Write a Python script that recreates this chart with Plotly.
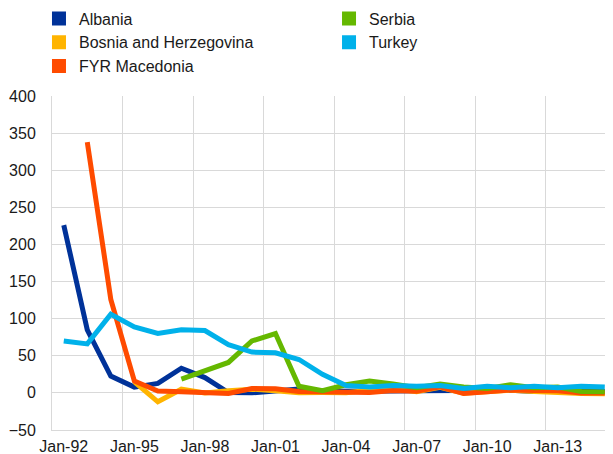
import plotly.graph_objects as go

years = list(range(1992, 2016))
tick_years = [1992, 1995, 1998, 2001, 2004, 2007, 2010, 2013]
tick_text = ["Jan-92", "Jan-95", "Jan-98", "Jan-01", "Jan-04", "Jan-07", "Jan-10", "Jan-13"]

albania = [226, 85, 22.6, 7.8, 12.7, 33.2, 20.6, 0.4, 0.1, 3.1, 5.2, 2.3,
           2.9, 2.4, 2.4, 2.9, 3.4, 2.3, 3.6, 3.4, 2.0, 1.9, 1.6, 1.9]
bosnia = [None, None, None, 15, -12, 5, 0, 3, 5, 3, 0.3, 0.5,
          0.3, 3.6, 6.1, 1.5, 7.4, -0.4, 2.1, 3.7, 2.0, -0.1, -0.9, -1.0]
macedonia = [None, 338, 126, 16, 2.5, 1.5, 0.6, -0.7, 5.8, 5.5, 1.8, 1.2,
             -0.4, 0.5, 3.2, 2.3, 8.3, -0.8, 1.6, 3.9, 3.3, 2.8, -0.3, -0.3]
serbia = [None, None, None, None, None, 18.5, 30, 41, 70, 80, 9, 3,
          11, 16, 12, 7, 12, 8, 6, 11, 7, 8, 2, 1.5]
turkey = [70, 66, 106, 89, 80, 85, 84, 65, 55, 54, 45, 25,
          10, 8, 10, 9, 10, 6, 9, 7, 9, 7, 9, 8]

series = [
    ("Albania", albania, "#003299", "legend"),
    ("Bosnia and Herzegovina", bosnia, "#FFB400", "legend"),
    ("FYR Macedonia", macedonia, "#FF4B00", "legend"),
    ("Serbia", serbia, "#65B800", "legend2"),
    ("Turkey", turkey, "#00B1EA", "legend2"),
]

fig = go.Figure()

for name, vals, color, _ in series:
    fig.add_trace(go.Scatter(
        x=years, y=vals, mode="lines", name=name,
        line=dict(color=color, width=5),
        connectgaps=False, showlegend=False,
    ))

# square legend swatches
for name, _, color, lg in series:
    fig.add_trace(go.Scatter(
        x=[None], y=[None], mode="markers", name=name,
        marker=dict(symbol="square", size=14, color=color),
        legend=lg,
    ))

grid = "#D9D9D9"
font = dict(family="Liberation Sans, Arial, sans-serif", size=16, color="#1a1a1a")

# the page body adds an 8px offset, so the figure is 8px smaller than the window
fig.update_layout(
    width=605, height=446,
    margin=dict(l=44, r=0, t=88, b=24, autoexpand=False),
    paper_bgcolor="white",
    plot_bgcolor="white",
    font=font,
    legend=dict(x=-0.0232, y=1.283, xanchor="left", yanchor="top",
                font=font, bgcolor="rgba(0,0,0,0)", tracegroupgap=0),
    legend2=dict(x=0.4938, y=1.283, xanchor="left", yanchor="top",
                 font=font, bgcolor="rgba(0,0,0,0)", tracegroupgap=0),
    xaxis=dict(
        range=[1991.5, 2015.35],
        tickvals=tick_years, ticktext=tick_text,
        showgrid=False, zeroline=False,
        showline=True, linecolor=grid, linewidth=1, ticks="",
        ticklabelstandoff=2,
        minor=dict(tickvals=[y - 0.5 for y in tick_years], showgrid=True,
                   gridcolor=grid, gridwidth=1),
    ),
    yaxis=dict(
        range=[-50, 400], dtick=50, tick0=0,
        showgrid=True, gridcolor=grid, gridwidth=1,
        zeroline=False, showline=True, linecolor=grid, linewidth=1, ticks="",
        ticklabelstandoff=12,
    ),
)

fig.write_html("out.html")
